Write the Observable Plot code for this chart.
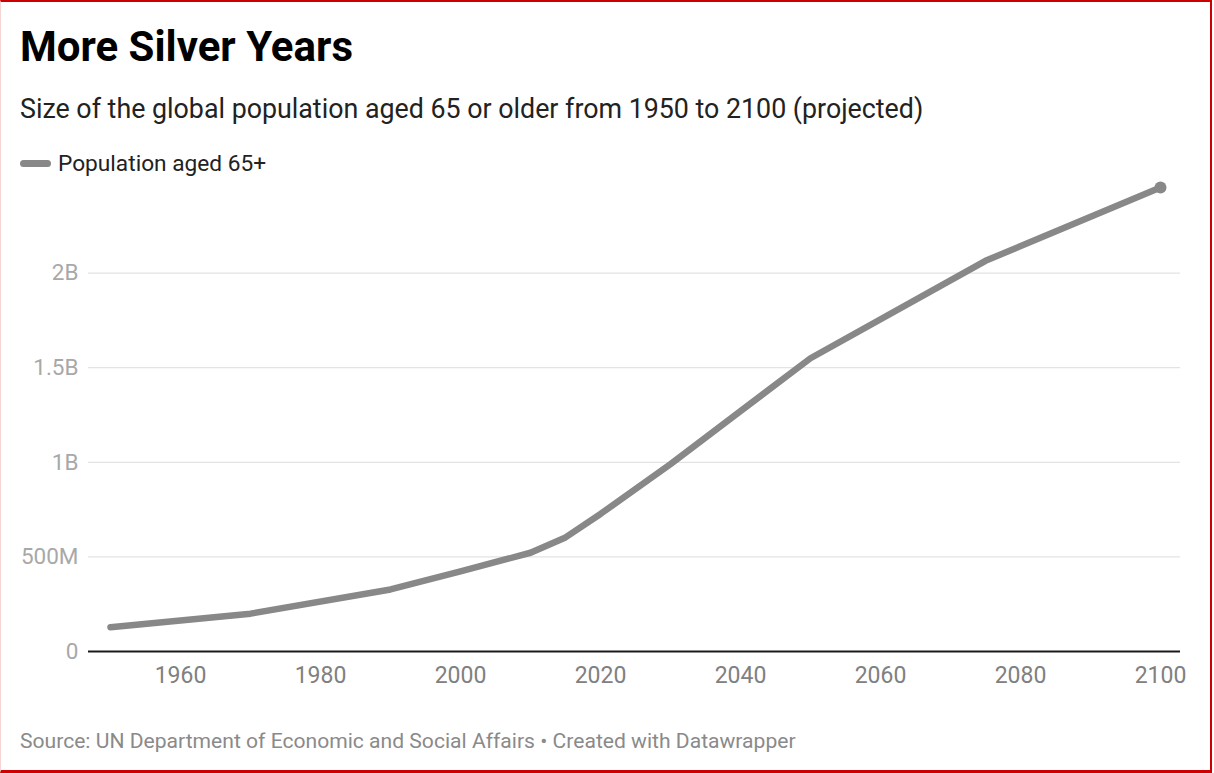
<!DOCTYPE html>
<html>
<head>
<meta charset="utf-8">
<script src="https://cdn.jsdelivr.net/npm/d3@7"></script>
<script src="https://cdn.jsdelivr.net/npm/@observablehq/plot@0.6"></script>
<style>
  html, body { margin: 0; padding: 0; background: #fff; }
  #frame {
    position: relative; width: 1212px; height: 773px; box-sizing: border-box;
    border-top: 2px solid #cc0000; border-right: 2px solid #cc0000; border-bottom: 3px solid #cc0000;
    border-left: 1px solid #f6d4d4;
    font-family: Roboto, "Noto Sans", sans-serif; overflow: hidden;
  }
  #frame > div { line-height: normal; white-space: nowrap; }
  #title { position: absolute; left: 19px; top: 20px; font-size: 42px; font-weight: 700; color: #000; }
  #subtitle { position: absolute; left: 19px; top: 91px; font-size: 26.8px; color: #222; }
  #legend { position: absolute; left: 19px; top: 148px; font-size: 22.7px; color: #222; display: flex; align-items: center; }
  #legend .sw { display: inline-block; width: 31px; height: 7px; border-radius: 4px; background: #888888; margin-right: 7px; }
  #chart { position: absolute; left: -1px; top: 156px; }
  #source { position: absolute; left: 19px; top: 726px; font-size: 21.1px; color: #8a8a8a; }
</style>
</head>
<body>
<div id="frame">
  <div id="title">More Silver Years</div>
  <div id="subtitle">Size of the global population aged 65 or older from 1950 to 2100 (projected)</div>
  <div id="legend"><span class="sw"></span><span>Population aged 65+</span></div>
  <div id="chart"></div>
  <div id="source">Source: UN Department of Economic and Social Affairs • Created with Datawrapper</div>
</div>
<script>
const seriesName = "Population aged 65+";
const years  = [1950, 1970, 1990, 2000, 2010, 2015, 2020, 2030, 2040, 2050, 2075, 2100];
const values = [128e6, 200e6, 328e6, 423e6, 522e6, 603e6, 727e6, 990e6, 1270e6, 1550e6, 2065e6, 2453e6];
const xTicks = [1960, 1980, 2000, 2020, 2040, 2060, 2080, 2100];
const yTicks = [0, 500e6, 1e9, 1.5e9, 2e9];

const data = years.map((y, i) => ({year: y, value: values[i], series: seriesName}));
const last = data[data.length - 1];

const fmtY = d => d === 0 ? "0" : d < 1e9 ? (d / 1e6) + "M" : (d / 1e9) + "B";

const chart = Plot.plot({
  width: 1214,
  height: 547,
  marginLeft: 88,
  marginRight: 34,
  marginTop: 20,
  marginBottom: 54,
  style: {fontFamily: "Roboto, 'Noto Sans', sans-serif", background: "transparent", maxWidth: "none"},
  x: {domain: [1950 - 22 / 7, 2100 + 20 / 7], ticks: xTicks, tickFormat: d => String(d)},
  y: {domain: [0, 2.5e9], ticks: yTicks, tickFormat: fmtY},
  marks: [
    Plot.gridY(yTicks.slice(1), {stroke: "#e3e3e3", strokeOpacity: 1, strokeWidth: 1.2}),
    Plot.axisY(yTicks, {tickSize: 0, tickPadding: 10, tickFormat: fmtY, fontSize: 22.5, fill: "#a8a8a8", label: null}),
    Plot.axisX(xTicks, {tickSize: 0, tickPadding: 15, tickFormat: d => String(d), fontSize: 23, fill: "#808080", label: null}),
    Plot.ruleY([0], {stroke: "#1a1a1a", strokeWidth: 2}),
    Plot.line(data, {x: "year", y: "value", stroke: "#888888", strokeWidth: 6.5, strokeLinecap: "round", strokeLinejoin: "round"}),
    Plot.dot([last], {x: "year", y: "value", r: 6, fill: "#888888", stroke: "none"})
  ]
});
document.getElementById("chart").appendChild(chart);
</script>
</body>
</html>
